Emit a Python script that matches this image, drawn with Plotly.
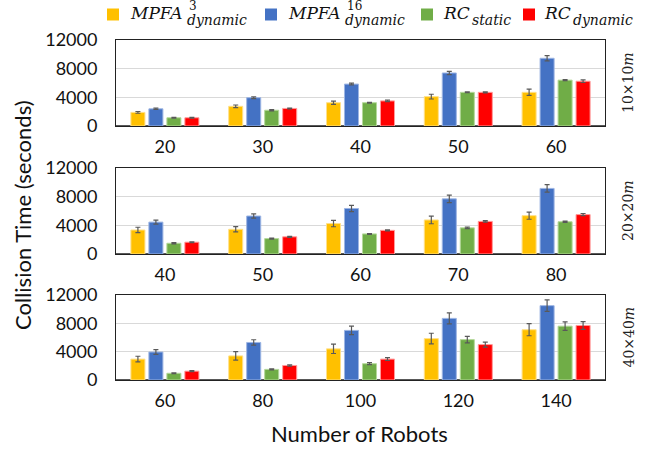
import plotly.graph_objects as go
from plotly.subplots import make_subplots

# ---------------- data ----------------
SERIES = ["MPFA3", "MPFA16", "RC_static", "RC_dynamic"]
COLORS = ["#FFC000", "#4472C4", "#70AD47", "#FF0000"]
EDGE_COLORS = ["#FFE08A", "#9DB5E3", "#B4D89A", "#FF9A9A"]

cats_10 = ["20", "30", "40", "50", "60"]
cats_20 = ["40", "50", "60", "70", "80"]
cats_40 = ["60", "80", "100", "120", "140"]

# 10x10m
mpfa3_10 = [1900, 2750, 3250, 4100, 4700]
mpfa16_10 = [2400, 3950, 5850, 7400, 9450]
rcs_10 = [1150, 2200, 3250, 4700, 6400]
rcd_10 = [1150, 2450, 3500, 4700, 6250]
mpfa3_10_err = [120, 180, 230, 330, 440]
mpfa16_10_err = [100, 120, 120, 230, 370]
rcs_10_err = [60, 80, 60, 50, 60]
rcd_10_err = [60, 60, 100, 80, 180]

# 20x20m
mpfa3_20 = [3350, 3450, 4250, 4750, 5350]
mpfa16_20 = [4450, 5300, 6350, 7700, 9150]
rcs_20 = [1500, 2150, 2800, 3650, 4500]
rcd_20 = [1650, 2400, 3300, 4550, 5500]
mpfa3_20_err = [380, 370, 450, 530, 500]
mpfa16_20_err = [270, 300, 430, 520, 520]
rcs_20_err = [80, 80, 60, 100, 100]
rcd_20_err = [60, 80, 60, 100, 150]

# 40x40m
mpfa3_40 = [2950, 3400, 4400, 5850, 7100]
mpfa16_40 = [3950, 5300, 7000, 8700, 10500]
rcs_40 = [950, 1500, 2300, 5700, 7600]
rcd_40 = [1250, 2050, 2950, 5000, 7700]
mpfa3_40_err = [400, 600, 660, 750, 850]
mpfa16_40_err = [330, 380, 600, 780, 800]
rcs_40_err = [50, 80, 140, 470, 600]
rcd_40_err = [60, 100, 200, 350, 550]

panel_labels = ["10×10<i>m</i>", "20×20<i>m</i>", "40×40<i>m</i>"]
y_ticks = [0, 4000, 8000, 12000]
y_tick_labels = ["0", "4000", "8000", "12000"]
y_title = "Collision Time (seconds)"
x_title = "Number of Robots"

panels = [
    (cats_10, [mpfa3_10, mpfa16_10, rcs_10, rcd_10],
     [mpfa3_10_err, mpfa16_10_err, rcs_10_err, rcd_10_err]),
    (cats_20, [mpfa3_20, mpfa16_20, rcs_20, rcd_20],
     [mpfa3_20_err, mpfa16_20_err, rcs_20_err, rcd_20_err]),
    (cats_40, [mpfa3_40, mpfa16_40, rcs_40, rcd_40],
     [mpfa3_40_err, mpfa16_40_err, rcs_40_err, rcd_40_err]),
]

# ---------------- layout geometry ----------------
W, H = 650, 449
ML, MR, MT, MB = 116, 45, 40, 69
PW, PH = W - ML - MR, H - MT - MB


def px_x(px):
    return (px - ML) / PW


def px_y(py):
    return (H - MB - py) / PH


domains = [
    [px_y(126), 1.0],
    [px_y(254), px_y(168)],
    [0.0, px_y(295)],
]

fig = make_subplots(rows=3, cols=1)

for r, (cats, vals, errs) in enumerate(panels, start=1):
    for s in range(len(SERIES)):
        fig.add_trace(
            go.Bar(
                x=cats, y=vals[s], name=SERIES[s], showlegend=False,
                marker=dict(color=COLORS[s],
                            line=dict(color=EDGE_COLORS[s], width=1)),
                error_y=dict(type="data", array=errs[s], color="#595959",
                             thickness=1.2, width=2.5),
            ),
            row=r, col=1,
        )

tick_font = dict(family="Lato, sans-serif", size=18, color="#111111")
for r in range(1, 4):
    suffix = "" if r == 1 else str(r)
    fig.layout["yaxis" + suffix].update(
        domain=domains[r - 1], range=[0, 12000],
        tickmode="array", tickvals=y_ticks, ticktext=y_tick_labels,
        showgrid=True, gridcolor="#D9D9D9", gridwidth=1,
        zeroline=True, zerolinecolor="#595959", zerolinewidth=2,
        showline=True, linecolor="#222222", linewidth=1, mirror=True,
        ticks="outside", ticklen=0, ticklabelstandoff=14,
        tickfont=tick_font, fixedrange=True, automargin=False,
    )
    fig.layout["xaxis" + suffix].update(
        type="category", showline=True, linecolor="#222222", linewidth=1,
        mirror=True, ticks="", ticklabelstandoff=4, tickfont=tick_font,
        showgrid=False, automargin=False, fixedrange=True,
    )

annotations = []
# axis titles
annotations.append(dict(
    text=y_title, xref="paper", yref="paper", x=px_x(23), y=px_y(215),
    textangle=-90, showarrow=False, xanchor="center", yanchor="middle",
    font=dict(family="Lato, sans-serif", size=22, color="#111111")))
annotations.append(dict(
    text=x_title, xref="paper", yref="paper", x=px_x(359), y=px_y(434),
    showarrow=False, xanchor="center", yanchor="middle",
    font=dict(family="Lato, sans-serif", size=22, color="#111111")))

# panel labels on the right
for lab, dom in zip(panel_labels, domains):
    annotations.append(dict(
        text=lab, xref="paper", yref="paper", x=px_x(628),
        y=(dom[0] + dom[1]) / 2, textangle=-90, showarrow=False,
        xanchor="center", yanchor="middle",
        font=dict(family="DejaVu Serif, serif", size=14, color="#222222")))

# manual legend (math-style labels with stacked sub/superscripts)
legend_items = [
    # swatch x, main text, main x, sup text, sub text, sub x
    (107, "MPFA", 128, "3", "dynamic", 185),
    (265, "MPFA", 286, "16", "dynamic", 343),
    (421, "RC", 441, "", "static", 470),
    (523, "RC", 542, "", "dynamic", 571),
]
shapes = []
mathfont = "DejaVu Serif, serif"
for i, (sx, main, mx, sup, sub, subx) in enumerate(legend_items):
    shapes.append(dict(type="rect", xref="paper", yref="paper",
                       x0=px_x(sx), x1=px_x(sx + 12), y0=px_y(20.5), y1=px_y(8.5),
                       fillcolor=COLORS[i], line=dict(width=0)))
    annotations.append(dict(
        text="<i>" + main + "</i>", xref="paper", yref="paper",
        x=px_x(mx), y=px_y(13), xanchor="left", yanchor="middle",
        showarrow=False, font=dict(family=mathfont, size=17, color="#111111")))
    if sup:
        annotations.append(dict(
            text=sup, xref="paper", yref="paper",
            x=px_x(subx + 2), y=px_y(6), xanchor="left", yanchor="middle",
            showarrow=False, font=dict(family=mathfont, size=12, color="#111111")))
    annotations.append(dict(
        text="<i>" + sub + "</i>", xref="paper", yref="paper",
        x=px_x(subx), y=px_y(20), xanchor="left", yanchor="middle",
        showarrow=False, font=dict(family=mathfont, size=14, color="#111111")))

fig.update_layout(
    width=W, height=H,
    margin=dict(l=ML, r=MR, t=MT, b=MB, autoexpand=False),
    paper_bgcolor="white", plot_bgcolor="white",
    barmode="group", bargap=0.264, bargroupgap=0.22,
    showlegend=False, hovermode=False,
    annotations=annotations, shapes=shapes,
)

fig.write_html("out.html", config={"displayModeBar": False, "staticPlot": True},
               post_script="document.body.style.margin='0';")
